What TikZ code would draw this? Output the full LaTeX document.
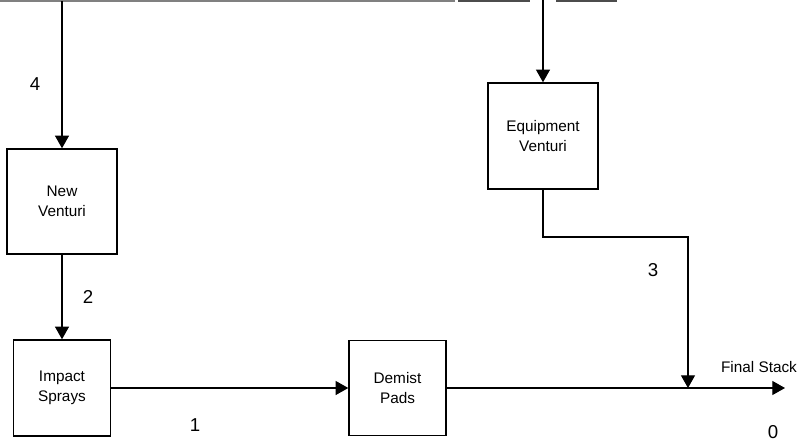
\documentclass[tikz,border=0pt]{standalone}
\usepackage{fontspec}
\setmainfont{Liberation Sans}
\usetikzlibrary{arrows.meta}
\begin{document}
\begin{tikzpicture}[x=0.75pt,y=-0.75pt,
  box/.style={draw,line width=1.1pt,inner sep=0pt,align=center,
    font=\fontsize{11.5}{15}\selectfont},
  conn/.style={line width=0.9pt},
  flow/.style={conn,-{Triangle[length=9.5pt,width=10.5pt]}},
  num/.style={font=\fontsize{14}{16}\selectfont},
  lbl/.style={font=\fontsize{11.5}{14}\selectfont}]
\useasboundingbox (0,0) rectangle (808,443);
% nodes
\node[box,minimum width=82.5pt,minimum height=78.75pt] (nv) at (62,201.5) {New\\Venturi};
\node[box,minimum width=72.75pt,minimum height=72pt] (is) at (62,388) {Impact\\Sprays};
\node[box,minimum width=72.75pt,minimum height=71.25pt] (dp) at (397.5,388) {Demist\\Pads};
\node[box,minimum width=82.5pt,minimum height=79.5pt] (ev) at (543,136) {Equipment\\Venturi};
% coordinates
\coordinate (tl) at (0,1);
\coordinate (tr) at (455,1);
\coordinate (s4) at (62,1);
\coordinate (se) at (543,0);
\coordinate (b3) at (543,237);
\coordinate (c3) at (688,237);
\coordinate (j) at (688,388);
\coordinate (out) at (785,388);
% top line and cut-off fragments
\draw[line width=1pt,gray] (tl) -- (tr);
\draw[line width=2pt,black!70] (458,0.5) -- (530,0.5);
\draw[line width=2pt,black!70] (556,0.5) -- (617,0.5);
% connectors
\draw[flow] (s4) -- (nv.north);
\draw[flow] (se) -- (ev.north);
\draw[flow] (nv.south) -- (is.north);
\draw[flow] (is.east) -- (dp.west);
\draw[flow] (dp.east) -- (out);
\draw[flow] (ev.south) -- (b3) -- (c3) -- (j);
% labels
\node[num] (l4) at (35,84) {4};
\node[num] (l2) at (88,297) {2};
\node[num] (l1) at (195,425) {1};
\node[num] (l3) at (653,270) {3};
\node[num] (l0) at (773,432) {0};
\node[lbl] (fs) at (759,367) {Final Stack};
\end{tikzpicture}
\end{document}
